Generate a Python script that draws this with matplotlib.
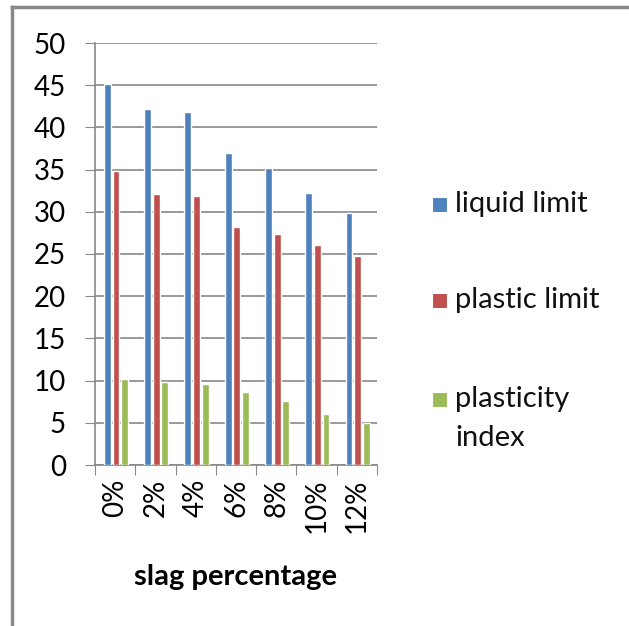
import numpy as np
import matplotlib
matplotlib.use('Agg')
import matplotlib.pyplot as plt
from matplotlib.patches import Rectangle
from matplotlib.lines import Line2D

# DATA
categories = ['0%', '2%', '4%', '6%', '8%', '10%', '12%']
liquid_limit = [45.1, 42.2, 41.8, 37.0, 35.2, 32.2, 29.9]
plastic_limit = [34.8, 32.1, 31.9, 28.2, 27.4, 26.1, 24.8]
plasticity_index = [10.2, 9.8, 9.6, 8.6, 7.6, 6.0, 5.0]

series = [('liquid limit', liquid_limit, '#4F81BD'),
          ('plastic limit', plastic_limit, '#C0504D'),
          ('plasticity\nindex', plasticity_index, '#9BBB59')]

plt.rcParams['font.family'] = ['Lato', 'DejaVu Sans']

W, H = 629, 626
fig = plt.figure(figsize=(W / 100, H / 100), dpi=100)
ax = fig.add_axes([95 / W, 1 - 465 / H, 282 / W, 422 / H])

x = np.arange(len(categories))
bw = 0.17
step = 0.215
for k, (name, vals, col) in enumerate(series):
    ax.bar(x + (k - 1) * step + 0.02, vals, width=bw, color=col,
           edgecolor='white', linewidth=1.0, zorder=3)

ax.set_xlim(-0.5, len(categories) - 0.5)
ax.set_ylim(0, 50)
ax.set_yticks(range(0, 51, 5))
ax.tick_params(axis='y', labelsize=20, length=7, color='#888888', pad=14)
ax.grid(axis='y', color='#888888', linewidth=1.2, zorder=0)

# category separators as ticks
ax.set_xticks(np.arange(-0.5, len(categories), 1.0))
ax.set_xticklabels([])
ax.set_xticks(x, minor=True)
ax.set_xticklabels(categories, minor=True, rotation=90, fontsize=20)
ax.tick_params(axis='x', which='major', length=7, color='#888888')
ax.tick_params(axis='x', which='minor', length=0, pad=10)

for s in ['top', 'right']:
    ax.spines[s].set_visible(False)
ax.spines['left'].set_color('#888888')
ax.spines['bottom'].set_color('#888888')
ax.spines['left'].set_linewidth(1.2)
ax.spines['bottom'].set_linewidth(1.2)

ax.set_xlabel('slag percentage', fontsize=21, fontweight='bold', labelpad=22)

# legend drawn by hand
leg_base = [212, 308, 407]
for (name, vals, col), yy in zip(series, leg_base):
    fig.patches.append(Rectangle((432 / W, 1 - yy / H), 15 / W, 15 / H,
                                 transform=fig.transFigure, facecolor=col,
                                 edgecolor='white', linewidth=0.8))
    for j, line in enumerate(name.split('\n')):
        fig.text(455 / W, 1 - (yy + 39 * j) / H, line, fontsize=21,
                 va='baseline', ha='left', color='#111111')

# outer frame lines
fig.lines.append(Line2D([12 / W, 1], [1 - 7 / H, 1 - 7 / H], transform=fig.transFigure,
                        color='#888888', linewidth=2.5))
fig.lines.append(Line2D([12 / W, 12 / W], [0, 1 - 7 / H], transform=fig.transFigure,
                        color='#888888', linewidth=2.5))

plt.savefig('out.png', dpi=100)
